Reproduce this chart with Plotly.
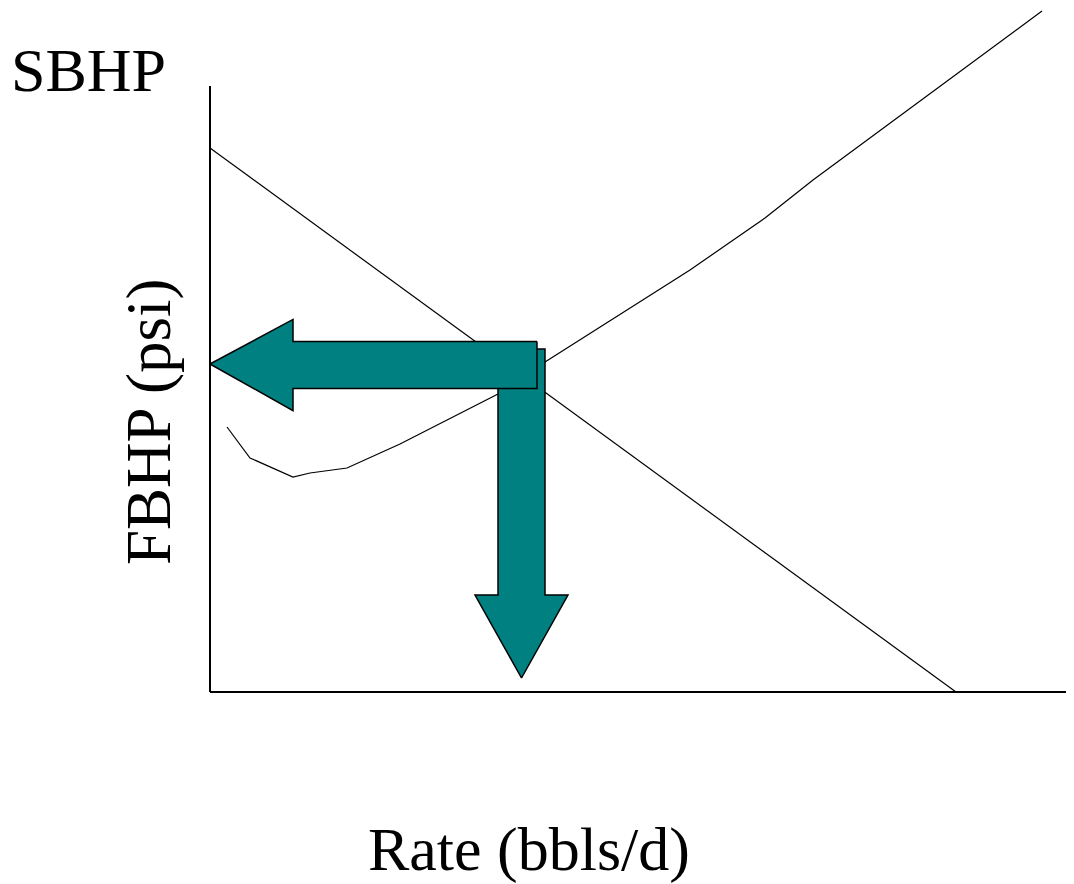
import plotly.graph_objects as go

# ---- data (rate in bbl/d, pressure in psi; arbitrary illustrative units) ----
ipr_rate = [0, 7460]
ipr_psi = [2720, 0]

tpr_rate = [170, 400, 830, 1000, 1370, 1900, 2880, 3350, 4800, 5550, 6030, 8320]
tpr_psi = [1325, 1170, 1075, 1095, 1120, 1240, 1490, 1650, 2110, 2370, 2560, 3405]

op_rate = 3115
op_psi = 1640

x_title = "Rate (bbls/d)"
y_title = "FBHP (psi)"
top_label = "SBHP"

# ---- layout constants ----
OFF = 8                     # page body margin
W, H = 1074 - OFF, 884 - OFF
ML, MB = 200 - OFF, 182
X_RANGE = [-100, 8640]
Y_RANGE = [-50, 3420]
Y_AXIS_TOP = 3030
TEAL = "#008080"
FONT = "Liberation Serif, Times New Roman, serif"

fig = go.Figure()

fig.add_trace(go.Scatter(x=ipr_rate, y=ipr_psi, mode="lines",
                         line=dict(color="black", width=1.2), hoverinfo="skip"))
fig.add_trace(go.Scatter(x=tpr_rate, y=tpr_psi, mode="lines",
                         line=dict(color="black", width=1.2), hoverinfo="skip"))

# vertical arrow (operating rate)
sw_r = 235      # shaft half width (rate units)
hw_r = 465      # head half width
v_top = op_psi + 75
v_head = 485
v_tip = 70
vx = [op_rate - sw_r, op_rate + sw_r, op_rate + sw_r, op_rate + hw_r, op_rate,
      op_rate - hw_r, op_rate - sw_r, op_rate - sw_r]
vy = [v_top, v_top, v_head, v_head, v_tip, v_head, v_head, v_top]
fig.add_trace(go.Scatter(x=vx, y=vy, mode="lines", fill="toself", fillcolor=TEAL,
                         line=dict(color="black", width=1.5), hoverinfo="skip"))

# horizontal arrow (operating pressure)
sw_p = 117
hw_p = 228
h_end = op_rate + 155
h_head = 830
hc = op_psi - 5
hx = [h_end, h_end, h_head, h_head, 0, h_head, h_head, h_end]
hy = [hc + sw_p, hc - sw_p, hc - sw_p, hc - hw_p, op_psi, hc + hw_p, hc + sw_p, hc + sw_p]
fig.add_trace(go.Scatter(x=hx, y=hy, mode="lines", fill="toself", fillcolor=TEAL,
                         line=dict(color="black", width=1.5), hoverinfo="skip"))

# axes lines
fig.add_shape(type="line", x0=0, x1=0, y0=0, y1=Y_AXIS_TOP, xref="x", yref="y",
              line=dict(color="black", width=2))
fig.add_shape(type="line", x0=0, x1=X_RANGE[1], y0=0, y1=0, xref="x", yref="y",
              line=dict(color="black", width=2))

PW = W - ML
PH = H - MB


def px(x):
    return (x - OFF - ML) / PW


def py(y):
    return (PH - (y - OFF)) / PH


fig.add_annotation(text=top_label, x=px(88), y=py(70), xref="paper", yref="paper",
                   showarrow=False, xanchor="center", yanchor="middle",
                   font=dict(family=FONT, size=62, color="black"))
fig.add_annotation(text=x_title, x=px(529), y=py(849), xref="paper", yref="paper",
                   showarrow=False, xanchor="center", yanchor="middle",
                   font=dict(family=FONT, size=62, color="black"))
fig.add_annotation(text=y_title, x=px(149), y=py(422), xref="paper", yref="paper",
                   showarrow=False, xanchor="center", yanchor="middle", textangle=-90,
                   font=dict(family=FONT, size=63, color="black"))

fig.update_layout(
    width=W, height=H, autosize=False,
    margin=dict(l=ML, r=0, t=0, b=MB, pad=0),
    paper_bgcolor="white", plot_bgcolor="white",
    showlegend=False,
    xaxis=dict(range=X_RANGE, visible=False, fixedrange=True),
    yaxis=dict(range=Y_RANGE, visible=False, fixedrange=True),
)

fig.write_html("out.html", config={"displayModeBar": False})
